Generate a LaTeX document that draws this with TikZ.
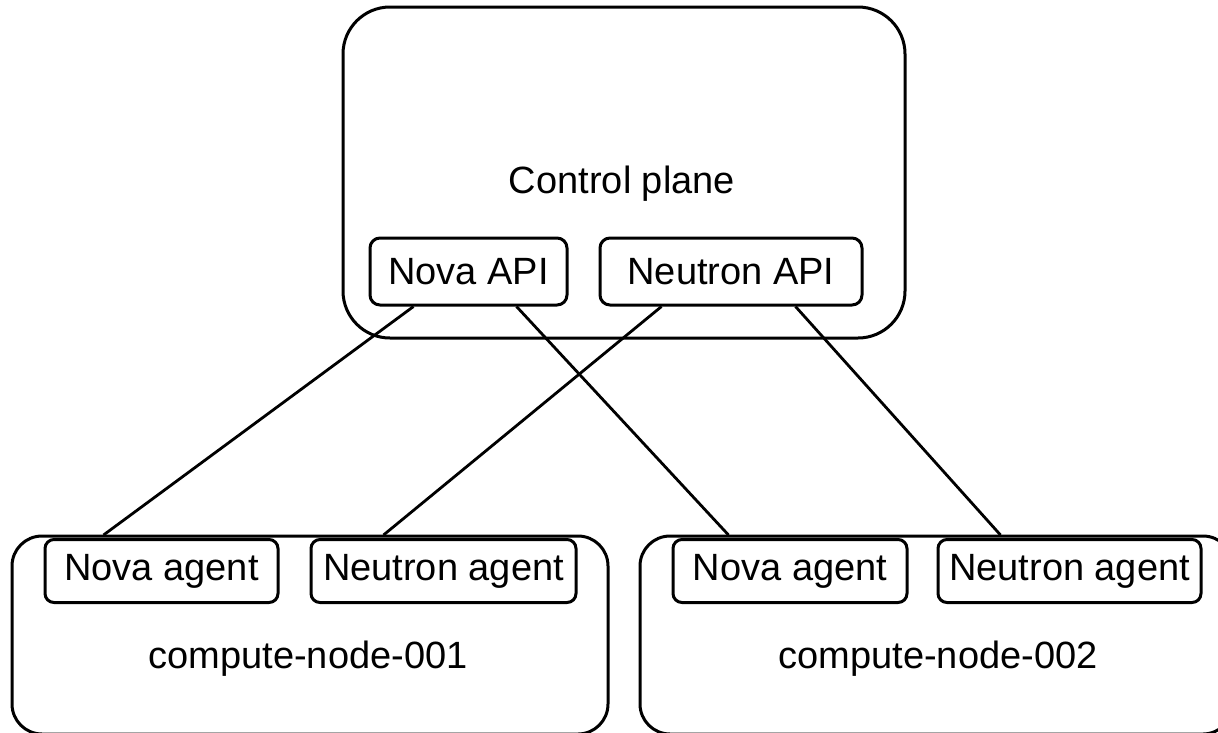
\documentclass[tikz,border=0pt]{standalone}
\usepackage{fontspec}
\setmainfont{Liberation Sans}
\usetikzlibrary{calc}
\begin{document}
\begin{tikzpicture}[x=1pt,y=-1pt,
  bigbox/.style={draw, line width=3pt, inner sep=0pt},
  comp/.style={draw, line width=3pt, rounded corners=9pt, inner sep=0pt, minimum height=63pt, font=\fontsize{38}{44}\selectfont},
  lbl/.style={inner sep=0pt, anchor=base, font=\fontsize{38}{44}\selectfont},
  link/.style={line width=2.8pt}]
\clip (0,0) rectangle (1218,732);
% containers
\node[bigbox, rounded corners=47pt, minimum width=562pt, minimum height=331pt] (cp) at (624,172.5) {};
\node[bigbox, rounded corners=30pt, minimum width=596pt, minimum height=198pt] (c1) at (310,635) {};
\node[bigbox, rounded corners=30pt, minimum width=593pt, minimum height=198pt] (c2) at (936.5,635) {};
% labels
\node[lbl] (cplbl) at (622,193) {Control plane};
\node[lbl] (c1lbl) at (308,668) {compute-node-001};
\node[lbl] (c2lbl) at (938,668) {compute-node-002};
% components
\node[comp, rounded corners=10pt, minimum width=197pt, minimum height=67pt] (novaapi) at (468.5,271.5) {Nova API};
\node[comp, rounded corners=10pt, minimum width=262pt, minimum height=67pt] (neutronapi) at (731,271.5) {Neutron API};
\node[comp, minimum width=233pt] (nova1) at (161.5,571) {Nova agent};
\node[comp, minimum width=265pt] (neutron1) at (443.5,571) {Neutron agent};
\node[comp, minimum width=234pt] (nova2) at (790,571) {Nova agent};
\node[comp, minimum width=263pt] (neutron2) at (1069.5,571) {Neutron agent};
% links
\draw[link] ($(novaapi.south west)+(45,0)$) -- ($(nova1.north west)+(60,-3)$);
\draw[link] ($(novaapi.south west)+(148,0)$) -- ($(nova2.north west)+(57,-3)$);
\draw[link] ($(neutronapi.south west)+(63,0)$) -- ($(neutron1.north west)+(74,-3)$);
\draw[link] ($(neutronapi.south west)+(197,0)$) -- ($(neutron2.north west)+(64,-3)$);
\end{tikzpicture}
\end{document}
